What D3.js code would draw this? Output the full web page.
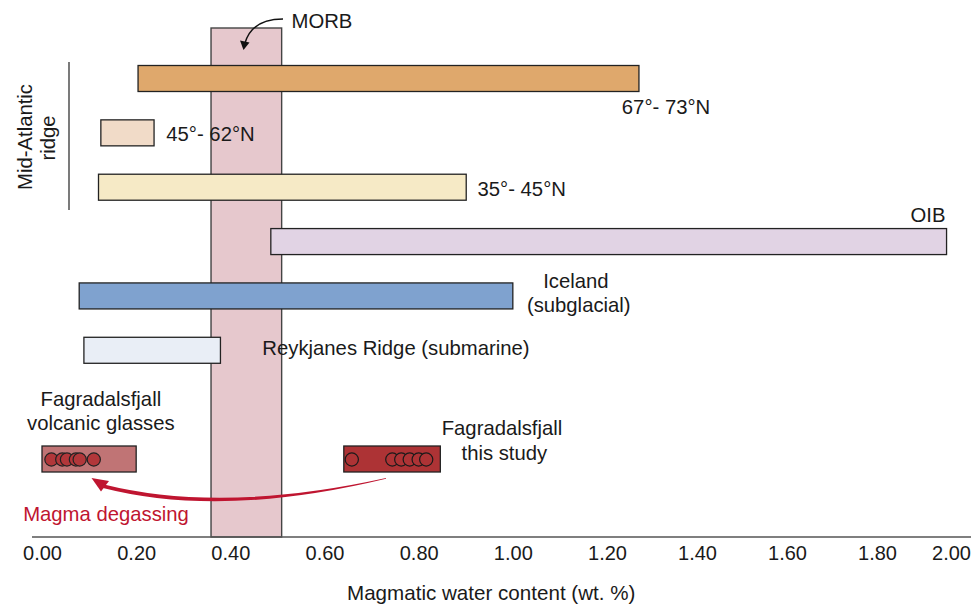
<!DOCTYPE html>
<html>
<head>
<meta charset="utf-8">
<script src="https://cdn.jsdelivr.net/npm/d3@7/dist/d3.min.js"></script>
<style>
  html, body { margin: 0; padding: 0; background: #fff; }
  svg { display: block; font-family: "Liberation Sans", Arial, sans-serif; }
</style>
</head>
<body>
<svg id="chart" width="971" height="605"></svg>
<script>
// ---------------- DATA ----------------
const barNames  = ["67°- 73°N", "45°- 62°N", "35°- 45°N", "OIB", "Iceland (subglacial)", "Reykjanes Ridge (submarine)", "Fagradalsfjall volcanic glasses", "Fagradalsfjall this study"];
const barRows   = [0, 1, 2, 3, 4, 5, 7, 7];
const barMin    = [0.204, 0.125, 0.120, 0.486, 0.079, 0.089, 0.000, 0.641];
const barMax    = [1.271, 0.238, 0.901, 1.988, 1.000, 0.379, 0.200, 0.846];
const morbRange = [0.359, 0.509];
const glassesH2O = [0.020, 0.043, 0.053, 0.072, 0.080, 0.110];
const studyH2O   = [0.658, 0.744, 0.763, 0.781, 0.800, 0.816];
const tickValues = [0.0, 0.2, 0.4, 0.6, 0.8, 1.0, 1.2, 1.4, 1.6, 1.8, 2.0];
const axisTitle  = "Magmatic water content (wt. %)";

// ---------------- STYLE ----------------
const barFill = ["#dfa86c", "#f1dbc8", "#f6eac6", "#e1d3e4", "#7fa2cf", "#e9eef6", "#c07475", "#ad3335"];
const morbFill = "#e6c8cd";
const red = "#bf1530";
const ink = "#1a1a1a";
const FS = 20.3;

const svg = d3.select("#chart");
const W = 971;

const x = d3.scaleLinear().domain([0, 1.2, 1.8, 2.0]).range([42, 607, 877, 951]);
const y = d3.scaleLinear().domain([0, 7]).range([78.5, 459]);
const barH = 26;
const axisY = 537;

// MORB band
svg.append("rect")
  .attr("x", x(morbRange[0])).attr("y", 28)
  .attr("width", x(morbRange[1]) - x(morbRange[0]))
  .attr("height", axisY - 28)
  .attr("fill", morbFill).attr("stroke", "#444").attr("stroke-width", 1.4);

// bars
const bars = barNames.map((n, i) => ({name: n, row: barRows[i], lo: barMin[i], hi: barMax[i], fill: barFill[i]}));
svg.append("g").selectAll("rect").data(bars).join("rect")
  .attr("x", d => x(d.lo)).attr("y", d => y(d.row) - barH / 2)
  .attr("width", d => x(d.hi) - x(d.lo)).attr("height", barH)
  .attr("fill", d => d.fill).attr("stroke", "#222").attr("stroke-width", 1.3);

// circles
svg.append("g").selectAll("circle").data(glassesH2O).join("circle")
  .attr("cx", d => x(d)).attr("cy", y(7) + 0.5).attr("r", 6.6)
  .attr("fill", "#b2373a").attr("stroke", "#222").attr("stroke-width", 1.2);
svg.append("g").selectAll("circle").data(studyH2O).join("circle")
  .attr("cx", d => x(d)).attr("cy", y(7) + 0.5).attr("r", 6.6)
  .attr("fill", "#ad3335").attr("stroke", "#1a1a1a").attr("stroke-width", 1.2);

// axis
svg.append("line").attr("x1", x(0) - 10).attr("x2", W).attr("y1", axisY).attr("y2", axisY)
  .attr("stroke", "#555").attr("stroke-width", 1.6);
const ax = svg.append("g").attr("transform", `translate(0,${axisY})`)
  .call(d3.axisBottom(x).tickValues(tickValues).tickFormat(d3.format(".2f")).tickSize(0).tickPadding(9));
ax.select(".domain").remove();
ax.selectAll("text").attr("font-size", 20).attr("fill", ink).attr("font-family", "Liberation Sans, Arial, sans-serif");

svg.append("text").attr("x", 347).attr("y", 600).attr("text-anchor", "start")
  .attr("font-size", 20.6).attr("fill", ink).text(axisTitle);

// labels
function label(tx, ty, txt, anchor, color) {
  svg.append("text").attr("x", tx).attr("y", ty).attr("text-anchor", anchor || "start")
    .attr("font-size", FS).attr("fill", color || ink).text(txt);
}
label(x(0.53), 28, "MORB");
label(x(1.233), y(0) + 35, "67°- 73°N");
label(x(0.264), y(1) + 8, "45°- 62°N");
label(x(0.925), y(2) + 9, "35°- 45°N");
label(x(1.985), y(3) - 20, "OIB", "end");
label(x(1.134), y(4) - 8, "Iceland", "middle");
label(x(1.14), y(4) + 16, "(subglacial)", "middle");
label(x(0.468), y(5) + 5, "Reykjanes Ridge (submarine)");
label(x(0.125), y(7) - 53, "Fagradalsfjall", "middle");
label(x(0.125), y(7) - 29, "volcanic glasses", "middle");
label(x(0.977), y(7) - 24, "Fagradalsfjall", "middle");
label(x(0.982), y(7) + 0.5, "this study", "middle");
label(x(-0.04), 521, "Magma degassing", "start", red);

// Mid-Atlantic ridge
const mar = svg.append("g");
mar.append("text").attr("transform", "translate(31.5,137) rotate(-90)").attr("text-anchor", "middle")
  .attr("font-size", FS).attr("fill", ink).text("Mid-Atlantic");
mar.append("text").attr("transform", "translate(55,138) rotate(-90)").attr("text-anchor", "middle")
  .attr("font-size", FS).attr("fill", ink).text("ridge");
svg.append("line").attr("x1", 69).attr("x2", 69).attr("y1", 62).attr("y2", 210)
  .attr("stroke", "#333").attr("stroke-width", 1.3);

// MORB arrow
svg.append("path").attr("d", "M283,19 Q252,19 245,43").attr("fill", "none")
  .attr("stroke", "#111").attr("stroke-width", 1.4);
svg.append("path").attr("d", "M243.5,50 L240,40.5 L249.5,42.5 Z").attr("fill", "#111");

// degassing arrow (tapered)
svg.append("path")
  .attr("d", "M386,478 Q222,514 104,484.5 L103,488 Q222,518.5 386,478.8 Z")
  .attr("fill", red);
svg.append("path").attr("d", "M91.5,478 L109,481 L101,491.5 Z").attr("fill", red);
</script>
</body>
</html>
